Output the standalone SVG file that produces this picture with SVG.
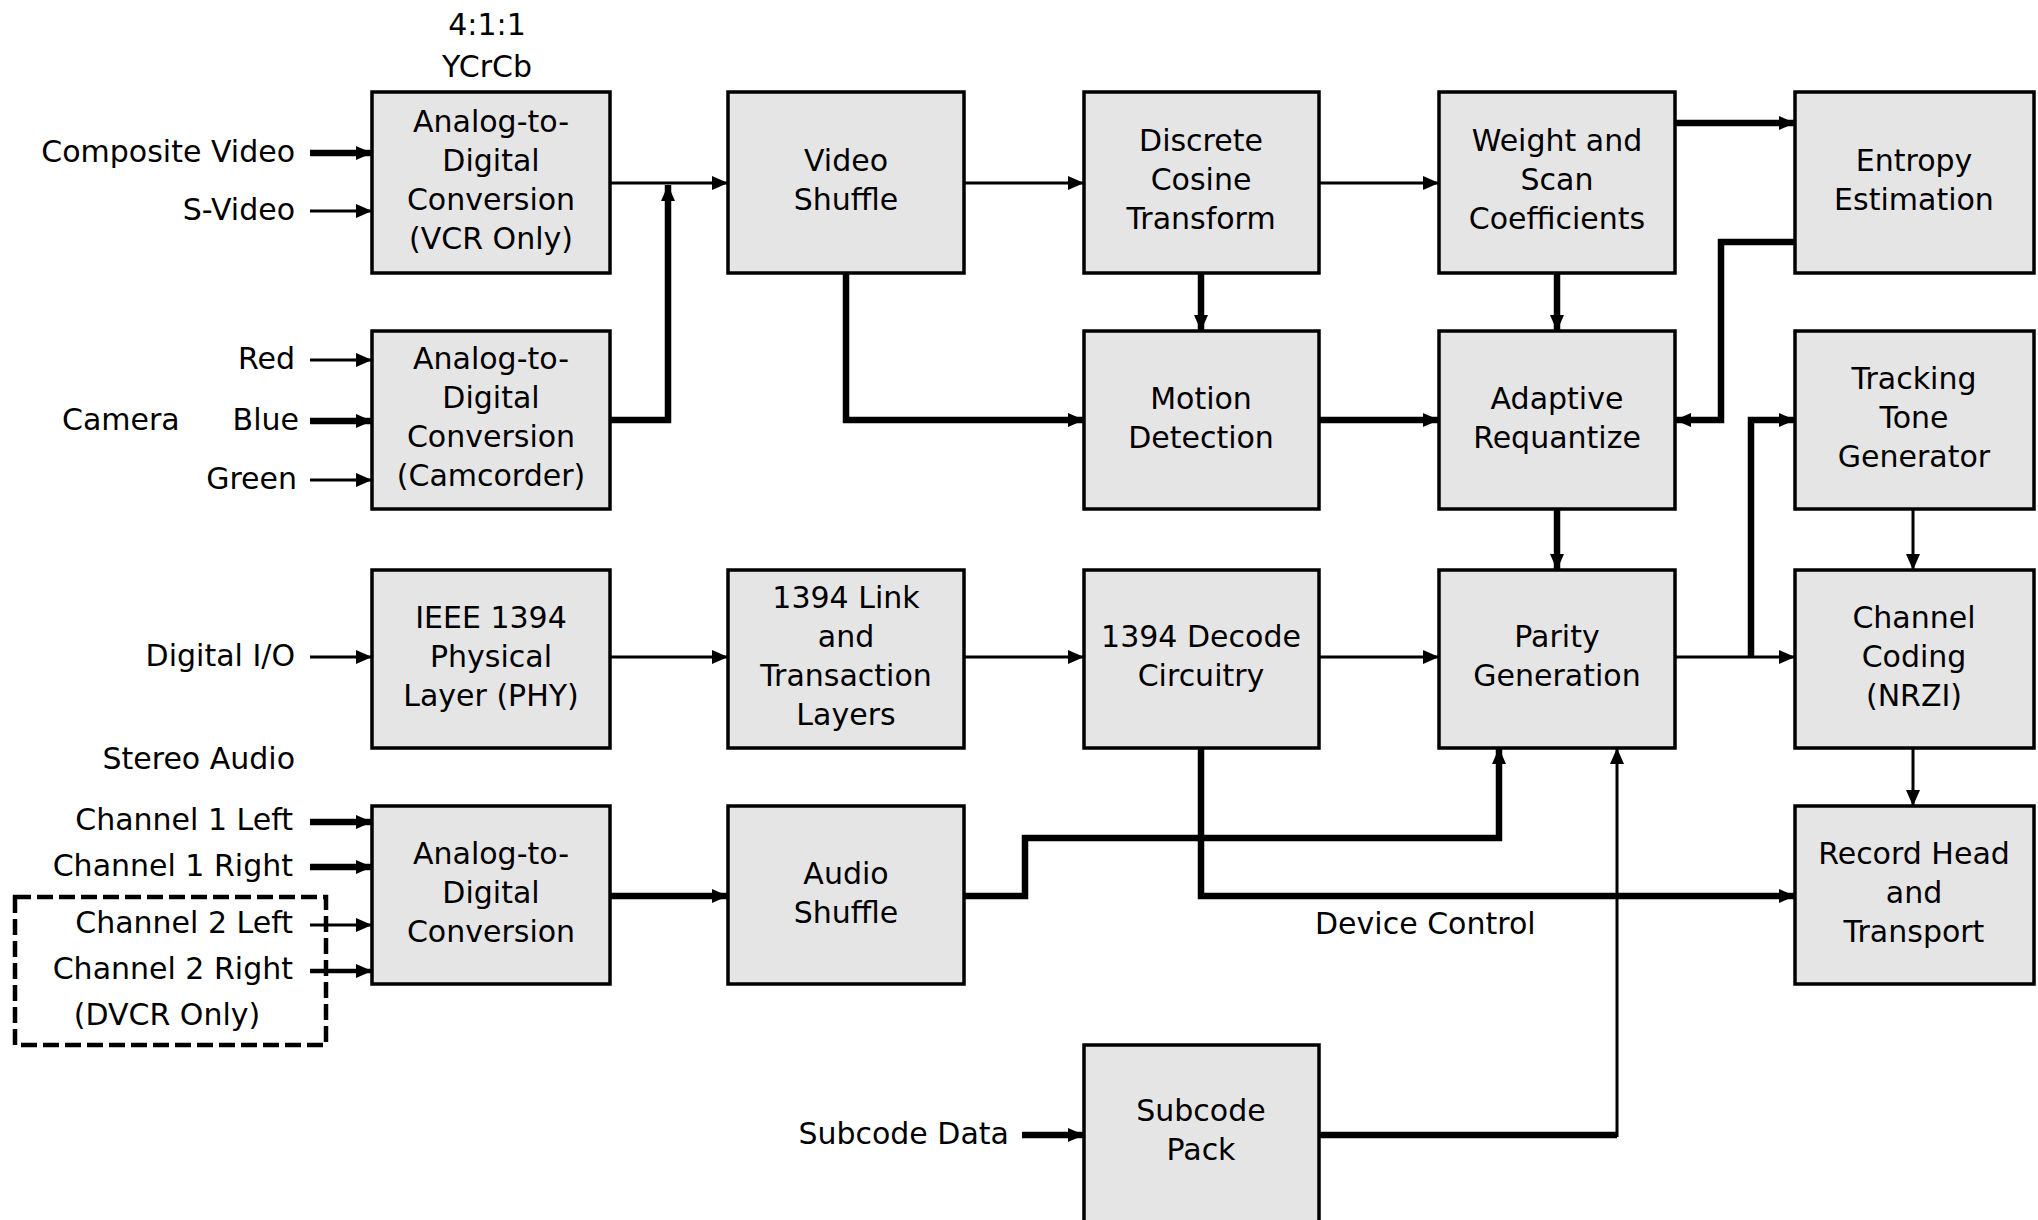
<svg xmlns="http://www.w3.org/2000/svg" width="2038" height="1220" viewBox="0 0 2038 1220">
  <defs>
    <style>
      .box { fill: #e5e5e5; stroke: #000; stroke-width: 3.5; }
      .lbl { font-family: "DejaVu Sans", "Liberation Sans", sans-serif; font-size: 30px; fill: #000; }
      .mid { text-anchor: middle; }
      .end { text-anchor: end; }
      .thin { fill: none; stroke: #000; stroke-width: 3; }
      .med { fill: none; stroke: #000; stroke-width: 4.5; }
      .thick { fill: none; stroke: #000; stroke-width: 6.5; }
      .arr { marker-end: url(#ah); }
      .dash { fill: none; stroke: #000; stroke-width: 4.5; stroke-dasharray: 16 6; }
    </style>
    <marker id="ah" markerUnits="userSpaceOnUse" markerWidth="16" markerHeight="16" viewBox="0 0 16 16" refX="16" refY="8" orient="auto">
      <path d="M0,1 L16,8 L0,15 Z" fill="#000"/>
    </marker>
  </defs>

  <rect width="2038" height="1220" fill="#fff"/>

  <!-- connectors -->
  <g id="connectors">
    <!-- video inputs -->
    <path class="thick arr" d="M310,153 H372"/>
    <path class="thin arr" d="M310,211 H372"/>
    <path class="thin arr" d="M310,360 H372"/>
    <path class="thick arr" d="M310,421 H372"/>
    <path class="thin arr" d="M310,480 H372"/>
    <!-- digital + audio inputs -->
    <path class="thin arr" d="M310,657 H372"/>
    <path class="thick arr" d="M310,822 H372"/>
    <path class="thick arr" d="M310,867 H372"/>
    <path class="thin arr" d="M310,925 H372"/>
    <path class="med arr" d="M310,971 H372"/>
    <path class="thick arr" d="M1022,1135 H1084"/>

    <!-- video path -->
    <path class="thin arr" d="M610,183 H728"/>
    <path class="thick arr" d="M610,420 H668 V185"/>
    <path class="thin arr" d="M964,183 H1084"/>
    <path class="thin arr" d="M1319,183 H1439"/>
    <path class="thick arr" d="M1675,123 H1795"/>
    <path class="thick arr" d="M1201,273 V331"/>
    <path class="thick arr" d="M846,273 V420 H1084"/>
    <path class="thick arr" d="M1319,420 H1439"/>
    <path class="thick arr" d="M1557,273 V331"/>
    <path class="thick arr" d="M1797,242 H1721 V420 H1675"/>
    <path class="thick arr" d="M1557,509 V570"/>
    <path class="thin arr" d="M1913,509 V570"/>
    <path class="thin arr" d="M1675,657 H1795"/>
    <path class="thick arr" d="M1751,657 V420 H1795"/>
    <path class="thin arr" d="M1913,748 V806"/>

    <!-- 1394 path -->
    <path class="thin arr" d="M610,657 H728"/>
    <path class="thin arr" d="M964,657 H1084"/>
    <path class="thin arr" d="M1319,657 H1439"/>

    <!-- audio, device control, subcode -->
    <path class="thick arr" d="M610,896 H728"/>
    <path class="thick arr" d="M964,896 H1025 V838 H1499 V748"/>
    <path class="thick arr" d="M1201,748 V896 H1795"/>
    <path class="thick" d="M1319,1135 H1617"/>
    <path class="thin arr" d="M1617,1137 V748"/>

    <!-- optional second audio channel -->
    <rect class="dash" x="15" y="897" width="311" height="148"/>
  </g>

  <!-- free labels -->
  <g id="labels" class="lbl">
    <text class="mid" x="487" y="35">4:1:1</text>
    <text class="mid" x="487" y="77">YCrCb</text>
    <text class="end" x="295" y="162">Composite Video</text>
    <text class="end" x="295" y="220">S-Video</text>
    <text class="end" x="295" y="369">Red</text>
    <text x="62" y="430">Camera</text>
    <text class="end" x="299" y="430">Blue</text>
    <text class="end" x="297" y="489">Green</text>
    <text class="end" x="295" y="666">Digital I/O</text>
    <text class="end" x="295" y="769">Stereo Audio</text>
    <text class="end" x="293" y="830">Channel 1 Left</text>
    <text class="end" x="293" y="876">Channel 1 Right</text>
    <text class="end" x="293" y="933">Channel 2 Left</text>
    <text class="end" x="293" y="979">Channel 2 Right</text>
    <text class="mid" x="167" y="1025">(DVCR Only)</text>
    <text x="1315" y="934">Device Control</text>
    <text class="end" x="1009" y="1144">Subcode Data</text>
  </g>

  <!-- row 1 -->
  <g id="adc-vcr">
    <rect class="box" x="372" y="92" width="238" height="181"/>
    <text class="lbl mid"><tspan x="491" y="132">Analog-to-</tspan><tspan x="491" y="171">Digital</tspan><tspan x="491" y="210">Conversion</tspan><tspan x="491" y="249">(VCR Only)</tspan></text>
  </g>
  <g id="video-shuffle">
    <rect class="box" x="728" y="92" width="236" height="181"/>
    <text class="lbl mid"><tspan x="846" y="171">Video</tspan><tspan x="846" y="210">Shuffle</tspan></text>
  </g>
  <g id="dct">
    <rect class="box" x="1084" y="92" width="235" height="181"/>
    <text class="lbl mid"><tspan x="1201" y="151">Discrete</tspan><tspan x="1201" y="190">Cosine</tspan><tspan x="1201" y="229">Transform</tspan></text>
  </g>
  <g id="weight-scan">
    <rect class="box" x="1439" y="92" width="236" height="181"/>
    <text class="lbl mid"><tspan x="1557" y="151">Weight and</tspan><tspan x="1557" y="190">Scan</tspan><tspan x="1557" y="229">Coefficients</tspan></text>
  </g>
  <g id="entropy">
    <rect class="box" x="1795" y="92" width="239" height="181"/>
    <text class="lbl mid"><tspan x="1914" y="171">Entropy</tspan><tspan x="1914" y="210">Estimation</tspan></text>
  </g>

  <!-- row 2 -->
  <g id="adc-camcorder">
    <rect class="box" x="372" y="331" width="238" height="178"/>
    <text class="lbl mid"><tspan x="491" y="369">Analog-to-</tspan><tspan x="491" y="408">Digital</tspan><tspan x="491" y="447">Conversion</tspan><tspan x="491" y="486">(Camcorder)</tspan></text>
  </g>
  <g id="motion">
    <rect class="box" x="1084" y="331" width="235" height="178"/>
    <text class="lbl mid"><tspan x="1201" y="409">Motion</tspan><tspan x="1201" y="448">Detection</tspan></text>
  </g>
  <g id="requantize">
    <rect class="box" x="1439" y="331" width="236" height="178"/>
    <text class="lbl mid"><tspan x="1557" y="409">Adaptive</tspan><tspan x="1557" y="448">Requantize</tspan></text>
  </g>
  <g id="tracking-tone">
    <rect class="box" x="1795" y="331" width="239" height="178"/>
    <text class="lbl mid"><tspan x="1914" y="389">Tracking</tspan><tspan x="1914" y="428">Tone</tspan><tspan x="1914" y="467">Generator</tspan></text>
  </g>

  <!-- row 3 -->
  <g id="ieee-phy">
    <rect class="box" x="372" y="570" width="238" height="178"/>
    <text class="lbl mid"><tspan x="491" y="628">IEEE 1394</tspan><tspan x="491" y="667">Physical</tspan><tspan x="491" y="706">Layer (PHY)</tspan></text>
  </g>
  <g id="link-layer">
    <rect class="box" x="728" y="570" width="236" height="178"/>
    <text class="lbl mid"><tspan x="846" y="608">1394 Link</tspan><tspan x="846" y="647">and</tspan><tspan x="846" y="686">Transaction</tspan><tspan x="846" y="725">Layers</tspan></text>
  </g>
  <g id="decode">
    <rect class="box" x="1084" y="570" width="235" height="178"/>
    <text class="lbl mid"><tspan x="1201" y="647">1394 Decode</tspan><tspan x="1201" y="686">Circuitry</tspan></text>
  </g>
  <g id="parity">
    <rect class="box" x="1439" y="570" width="236" height="178"/>
    <text class="lbl mid"><tspan x="1557" y="647">Parity</tspan><tspan x="1557" y="686">Generation</tspan></text>
  </g>
  <g id="channel-coding">
    <rect class="box" x="1795" y="570" width="239" height="178"/>
    <text class="lbl mid"><tspan x="1914" y="628">Channel</tspan><tspan x="1914" y="667">Coding</tspan><tspan x="1914" y="706">(NRZI)</tspan></text>
  </g>

  <!-- row 4 -->
  <g id="adc-audio">
    <rect class="box" x="372" y="806" width="238" height="178"/>
    <text class="lbl mid"><tspan x="491" y="864">Analog-to-</tspan><tspan x="491" y="903">Digital</tspan><tspan x="491" y="942">Conversion</tspan></text>
  </g>
  <g id="audio-shuffle">
    <rect class="box" x="728" y="806" width="236" height="178"/>
    <text class="lbl mid"><tspan x="846" y="884">Audio</tspan><tspan x="846" y="923">Shuffle</tspan></text>
  </g>
  <g id="record-head">
    <rect class="box" x="1795" y="806" width="239" height="178"/>
    <text class="lbl mid"><tspan x="1914" y="864">Record Head</tspan><tspan x="1914" y="903">and</tspan><tspan x="1914" y="942">Transport</tspan></text>
  </g>

  <!-- row 5 -->
  <g id="subcode-pack">
    <rect class="box" x="1084" y="1045" width="235" height="200"/>
    <text class="lbl mid"><tspan x="1201" y="1121">Subcode</tspan><tspan x="1201" y="1160">Pack</tspan></text>
  </g>
</svg>
